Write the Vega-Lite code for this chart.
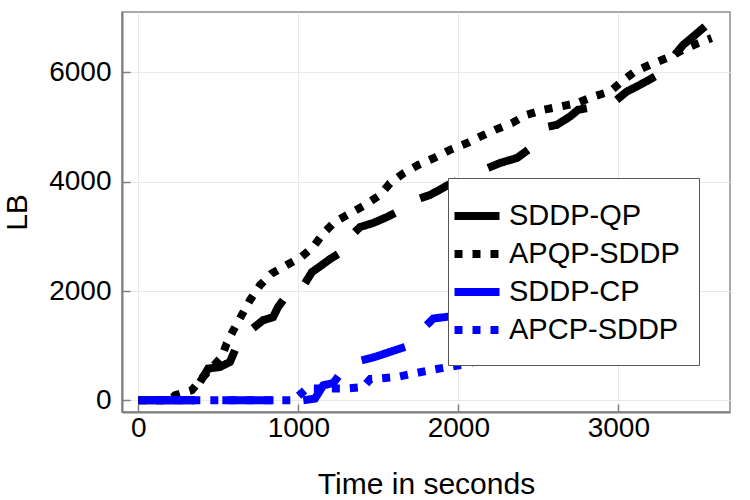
{
  "$schema": "https://vega.github.io/schema/vega-lite/v6.json",
  "width": 608,
  "height": 400,
  "autosize": {"type": "none"},
  "padding": {"left": 122, "top": 12, "right": 20, "bottom": 88},
  "background": "white",
  "config": {
    "view": {"stroke": "#8c8c8c", "strokeWidth": 1.5},
    "axis": {
      "domainColor": "#7f7f7f",
      "domainWidth": 2,
      "gridColor": "#e8e8e8",
      "gridWidth": 1,
      "tickColor": "#7f7f7f",
      "tickWidth": 1.5,
      "tickSize": -8,
      "labelFont": "Liberation Sans",
      "labelFontSize": 28,
      "labelColor": "black",
      "titleFont": "Liberation Sans",
      "titleFontSize": 30,
      "titleFontWeight": "normal",
      "titleColor": "black"
    }
  },
  "data": {
    "values": [
      {"series": "SDDP-QP", "seg": 1, "t": 0, "lb": 0},
      {"series": "SDDP-QP", "seg": 1, "t": 350, "lb": 0},
      {"series": "SDDP-QP", "seg": 2, "t": 386, "lb": 335},
      {"series": "SDDP-QP", "seg": 2, "t": 437, "lb": 581},
      {"series": "SDDP-QP", "seg": 2, "t": 511, "lb": 610},
      {"series": "SDDP-QP", "seg": 2, "t": 573, "lb": 702},
      {"series": "SDDP-QP", "seg": 2, "t": 604, "lb": 917},
      {"series": "SDDP-QP", "seg": 3, "t": 717, "lb": 1320},
      {"series": "SDDP-QP", "seg": 3, "t": 780, "lb": 1466},
      {"series": "SDDP-QP", "seg": 3, "t": 842, "lb": 1521},
      {"series": "SDDP-QP", "seg": 3, "t": 873, "lb": 1705},
      {"series": "SDDP-QP", "seg": 3, "t": 905, "lb": 1833},
      {"series": "SDDP-QP", "seg": 4, "t": 1042, "lb": 2145},
      {"series": "SDDP-QP", "seg": 4, "t": 1085, "lb": 2346},
      {"series": "SDDP-QP", "seg": 4, "t": 1147, "lb": 2475},
      {"series": "SDDP-QP", "seg": 4, "t": 1198, "lb": 2585},
      {"series": "SDDP-QP", "seg": 4, "t": 1248, "lb": 2676},
      {"series": "SDDP-QP", "seg": 5, "t": 1354, "lb": 3080},
      {"series": "SDDP-QP", "seg": 5, "t": 1386, "lb": 3171},
      {"series": "SDDP-QP", "seg": 5, "t": 1467, "lb": 3244},
      {"series": "SDDP-QP", "seg": 5, "t": 1554, "lb": 3354},
      {"series": "SDDP-QP", "seg": 5, "t": 1604, "lb": 3428},
      {"series": "SDDP-QP", "seg": 6, "t": 1761, "lb": 3697},
      {"series": "SDDP-QP", "seg": 6, "t": 1823, "lb": 3758},
      {"series": "SDDP-QP", "seg": 6, "t": 1904, "lb": 3886},
      {"series": "SDDP-QP", "seg": 6, "t": 1936, "lb": 3941},
      {"series": "SDDP-QP", "seg": 6, "t": 1990, "lb": 4010},
      {"series": "SDDP-QP", "seg": 7, "t": 2186, "lb": 4253},
      {"series": "SDDP-QP", "seg": 7, "t": 2261, "lb": 4344},
      {"series": "SDDP-QP", "seg": 7, "t": 2367, "lb": 4436},
      {"series": "SDDP-QP", "seg": 7, "t": 2436, "lb": 4583},
      {"series": "SDDP-QP", "seg": 8, "t": 2563, "lb": 5010},
      {"series": "SDDP-QP", "seg": 8, "t": 2615, "lb": 5041},
      {"series": "SDDP-QP", "seg": 8, "t": 2698, "lb": 5193},
      {"series": "SDDP-QP", "seg": 8, "t": 2748, "lb": 5316},
      {"series": "SDDP-QP", "seg": 8, "t": 2803, "lb": 5347},
      {"series": "SDDP-QP", "seg": 9, "t": 2990, "lb": 5499},
      {"series": "SDDP-QP", "seg": 9, "t": 3053, "lb": 5651},
      {"series": "SDDP-QP", "seg": 9, "t": 3136, "lb": 5774},
      {"series": "SDDP-QP", "seg": 9, "t": 3229, "lb": 5926},
      {"series": "SDDP-QP", "seg": 10, "t": 3354, "lb": 6324},
      {"series": "SDDP-QP", "seg": 10, "t": 3406, "lb": 6507},
      {"series": "SDDP-QP", "seg": 10, "t": 3469, "lb": 6660},
      {"series": "SDDP-QP", "seg": 10, "t": 3542, "lb": 6843},

      {"series": "APQP-SDDP", "seg": 1, "t": 0, "lb": 0},
      {"series": "APQP-SDDP", "seg": 1, "t": 200, "lb": 0},
      {"series": "APQP-SDDP", "seg": 1, "t": 229, "lb": 92},
      {"series": "APQP-SDDP", "seg": 1, "t": 334, "lb": 183},
      {"series": "APQP-SDDP", "seg": 1, "t": 396, "lb": 400},
      {"series": "APQP-SDDP", "seg": 1, "t": 460, "lb": 600},
      {"series": "APQP-SDDP", "seg": 1, "t": 521, "lb": 794},
      {"series": "APQP-SDDP", "seg": 1, "t": 552, "lb": 1039},
      {"series": "APQP-SDDP", "seg": 1, "t": 594, "lb": 1283},
      {"series": "APQP-SDDP", "seg": 1, "t": 646, "lb": 1558},
      {"series": "APQP-SDDP", "seg": 1, "t": 698, "lb": 1833},
      {"series": "APQP-SDDP", "seg": 1, "t": 761, "lb": 2108},
      {"series": "APQP-SDDP", "seg": 1, "t": 834, "lb": 2322},
      {"series": "APQP-SDDP", "seg": 1, "t": 927, "lb": 2475},
      {"series": "APQP-SDDP", "seg": 1, "t": 1021, "lb": 2627},
      {"series": "APQP-SDDP", "seg": 1, "t": 1094, "lb": 2810},
      {"series": "APQP-SDDP", "seg": 1, "t": 1156, "lb": 3056},
      {"series": "APQP-SDDP", "seg": 1, "t": 1229, "lb": 3268},
      {"series": "APQP-SDDP", "seg": 1, "t": 1323, "lb": 3422},
      {"series": "APQP-SDDP", "seg": 1, "t": 1417, "lb": 3574},
      {"series": "APQP-SDDP", "seg": 1, "t": 1511, "lb": 3758},
      {"series": "APQP-SDDP", "seg": 1, "t": 1573, "lb": 3972},
      {"series": "APQP-SDDP", "seg": 1, "t": 1657, "lb": 4155},
      {"series": "APQP-SDDP", "seg": 1, "t": 1750, "lb": 4308},
      {"series": "APQP-SDDP", "seg": 1, "t": 1844, "lb": 4430},
      {"series": "APQP-SDDP", "seg": 1, "t": 1948, "lb": 4583},
      {"series": "APQP-SDDP", "seg": 1, "t": 2052, "lb": 4705},
      {"series": "APQP-SDDP", "seg": 1, "t": 2136, "lb": 4827},
      {"series": "APQP-SDDP", "seg": 1, "t": 2229, "lb": 4950},
      {"series": "APQP-SDDP", "seg": 1, "t": 2334, "lb": 5072},
      {"series": "APQP-SDDP", "seg": 1, "t": 2427, "lb": 5225},
      {"series": "APQP-SDDP", "seg": 1, "t": 2531, "lb": 5316},
      {"series": "APQP-SDDP", "seg": 1, "t": 2636, "lb": 5377},
      {"series": "APQP-SDDP", "seg": 1, "t": 2740, "lb": 5438},
      {"series": "APQP-SDDP", "seg": 1, "t": 2844, "lb": 5560},
      {"series": "APQP-SDDP", "seg": 1, "t": 2948, "lb": 5651},
      {"series": "APQP-SDDP", "seg": 1, "t": 3021, "lb": 5835},
      {"series": "APQP-SDDP", "seg": 1, "t": 3104, "lb": 6018},
      {"series": "APQP-SDDP", "seg": 1, "t": 3198, "lb": 6141},
      {"series": "APQP-SDDP", "seg": 1, "t": 3302, "lb": 6263},
      {"series": "APQP-SDDP", "seg": 1, "t": 3406, "lb": 6416},
      {"series": "APQP-SDDP", "seg": 1, "t": 3500, "lb": 6538},
      {"series": "APQP-SDDP", "seg": 1, "t": 3583, "lb": 6630},

      {"series": "SDDP-CP", "seg": 1, "t": 50, "lb": 0},
      {"series": "SDDP-CP", "seg": 1, "t": 355, "lb": 0},
      {"series": "SDDP-CP", "seg": 2, "t": 525, "lb": 0},
      {"series": "SDDP-CP", "seg": 2, "t": 845, "lb": 0},
      {"series": "SDDP-CP", "seg": 3, "t": 1031, "lb": 0},
      {"series": "SDDP-CP", "seg": 3, "t": 1104, "lb": 31},
      {"series": "SDDP-CP", "seg": 3, "t": 1156, "lb": 275},
      {"series": "SDDP-CP", "seg": 3, "t": 1219, "lb": 317},
      {"series": "SDDP-CP", "seg": 3, "t": 1250, "lb": 440},
      {"series": "SDDP-CP", "seg": 4, "t": 1396, "lb": 733},
      {"series": "SDDP-CP", "seg": 4, "t": 1479, "lb": 794},
      {"series": "SDDP-CP", "seg": 4, "t": 1573, "lb": 886},
      {"series": "SDDP-CP", "seg": 4, "t": 1667, "lb": 977},
      {"series": "SDDP-CP", "seg": 5, "t": 1802, "lb": 1375},
      {"series": "SDDP-CP", "seg": 5, "t": 1844, "lb": 1497},
      {"series": "SDDP-CP", "seg": 5, "t": 1927, "lb": 1527},
      {"series": "SDDP-CP", "seg": 5, "t": 2100, "lb": 1550},
      {"series": "SDDP-CP", "seg": 5, "t": 2300, "lb": 1600},

      {"series": "APCP-SDDP", "seg": 1, "t": 0, "lb": 0},
      {"series": "APCP-SDDP", "seg": 1, "t": 970, "lb": 0},
      {"series": "APCP-SDDP", "seg": 1, "t": 1052, "lb": 214},
      {"series": "APCP-SDDP", "seg": 1, "t": 1292, "lb": 214},
      {"series": "APCP-SDDP", "seg": 1, "t": 1406, "lb": 244},
      {"series": "APCP-SDDP", "seg": 1, "t": 1450, "lb": 390},
      {"series": "APCP-SDDP", "seg": 1, "t": 1500, "lb": 397},
      {"series": "APCP-SDDP", "seg": 1, "t": 1615, "lb": 427},
      {"series": "APCP-SDDP", "seg": 1, "t": 1719, "lb": 489},
      {"series": "APCP-SDDP", "seg": 1, "t": 1823, "lb": 550},
      {"series": "APCP-SDDP", "seg": 1, "t": 1938, "lb": 611},
      {"series": "APCP-SDDP", "seg": 1, "t": 2052, "lb": 660},
      {"series": "APCP-SDDP", "seg": 1, "t": 2150, "lb": 760},
      {"series": "APCP-SDDP", "seg": 1, "t": 2400, "lb": 850},
      {"series": "APCP-SDDP", "seg": 1, "t": 2600, "lb": 900}
    ]
  },
  "mark": {"type": "line", "strokeWidth": 8, "strokeCap": "butt", "clip": true},
  "encoding": {
    "x": {
      "field": "t", "type": "quantitative",
      "scale": {"domain": [-102, 3698], "nice": false, "zero": false},
      "axis": {"values": [0, 1000, 2000, 3000], "title": "Time in seconds", "labelPadding": 10, "titlePadding": 27, "format": "d"}
    },
    "y": {
      "field": "lb", "type": "quantitative",
      "scale": {"domain": [-214, 7107], "nice": false, "zero": false},
      "axis": {"values": [0, 2000, 4000, 6000], "title": "LB", "labelPadding": 19, "titlePadding": 16, "format": "d"}
    },
    "color": {
      "field": "series", "type": "nominal",
      "scale": {"domain": ["SDDP-QP", "APQP-SDDP", "SDDP-CP", "APCP-SDDP"], "range": ["#000000", "#000000", "#0000ff", "#0000ff"]},
      "legend": {"title": null, "orient": "none", "legendX": 326, "legendY": 166, "symbolType": "M-2.1,0H0.9", "symbolSize": 900, "symbolStrokeWidth": 8, "labelFont": "Liberation Sans", "labelFontSize": 29, "labelColor": "black", "labelLimit": 400, "padding": 19, "rowPadding": 3, "labelOffset": 4, "strokeColor": "#555555", "fillColor": "white"}
    },
    "strokeDash": {
      "field": "series", "type": "nominal",
      "scale": {"domain": ["SDDP-QP", "APQP-SDDP", "SDDP-CP", "APCP-SDDP"], "range": [[1, 0], [8, 10], [1, 0], [8, 10]]},
      "legend": {"title": null, "orient": "none", "legendX": 326, "legendY": 166, "symbolType": "M-2.1,0H0.9", "symbolSize": 900, "symbolStrokeWidth": 8, "labelFont": "Liberation Sans", "labelFontSize": 29, "labelColor": "black", "labelLimit": 400, "padding": 19, "rowPadding": 3, "labelOffset": 4, "strokeColor": "#555555", "fillColor": "white"}
    },
    "detail": {"field": "seg", "type": "nominal"}
  }
}
